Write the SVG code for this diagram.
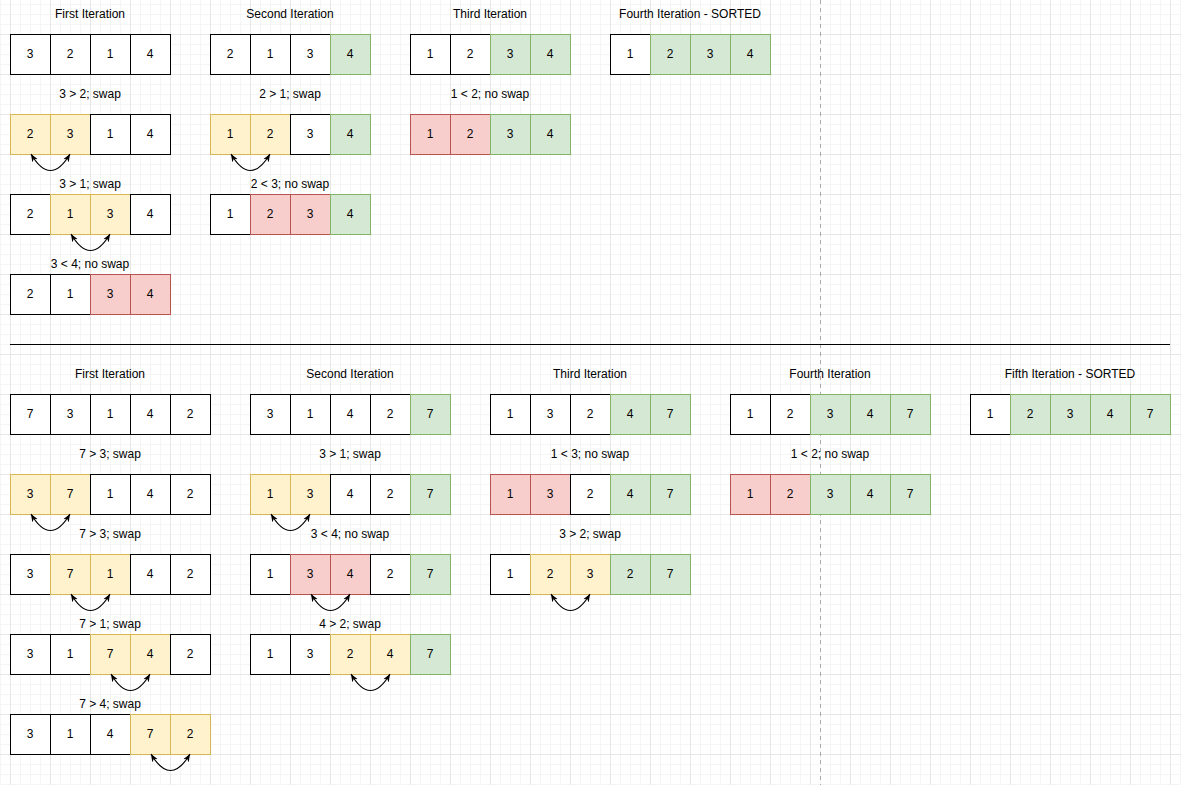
<svg xmlns="http://www.w3.org/2000/svg" width="1181" height="785" viewBox="0 0 1181 785">
<defs>
<pattern id="grid" x="10" y="34" width="40" height="40" patternUnits="userSpaceOnUse">
<path d="M10.5,0V40M20.5,0V40M30.5,0V40M0,10.5H40M0,20.5H40M0,30.5H40" stroke="#f5f5f5" stroke-width="1" fill="none"/>
<path d="M0.5,0V40M0,0.5H40" stroke="#e7e7e7" stroke-width="1" fill="none"/>
</pattern>
<marker id="ah" viewBox="0 0 10 10" refX="10" refY="5" markerWidth="8" markerHeight="8" markerUnits="userSpaceOnUse" orient="auto-start-reverse">
<path d="M0,1 L10,5 L0,9 L3,5 z" fill="#000"/>
</marker>
<style>
rect.w{fill:#fff;stroke:#000}
rect.y{fill:#fff2cc;stroke:#d6b656}
rect.r{fill:#f8cecc;stroke:#b85450}
rect.g{fill:#d5e8d4;stroke:#82b366}
text{font-family:"Liberation Sans",Arial,sans-serif;font-size:12px;fill:#000;text-anchor:middle}
.arr{fill:none;stroke:#000;stroke-width:1.2;marker-start:url(#ah);marker-end:url(#ah)}
</style>
</defs>
<rect width="1181" height="785" fill="#fff"/>
<rect width="1181" height="785" fill="url(#grid)"/>
<line x1="820.5" y1="0" x2="820.5" y2="785" stroke="#aaa" stroke-dasharray="4 4"/>
<line x1="10" y1="344.5" x2="1170" y2="344.5" stroke="#000"/>

<g transform="translate(0,-1)">
<g id="titles">
<text x="90" y="19">First Iteration</text>
<text x="290" y="19">Second Iteration</text>
<text x="490" y="19">Third Iteration</text>
<text x="690" y="19">Fourth Iteration - SORTED</text>
<text x="110" y="379">First Iteration</text>
<text x="350" y="379">Second Iteration</text>
<text x="590" y="379">Third Iteration</text>
<text x="830" y="379">Fourth Iteration</text>
<text x="1070" y="379">Fifth Iteration - SORTED</text>
</g>
<g id="labels">
<text x="90" y="99">3 &gt; 2; swap</text>
<text x="90" y="189">3 &gt; 1; swap</text>
<text x="90" y="269">3 &lt; 4; no swap</text>
<text x="290" y="99">2 &gt; 1; swap</text>
<text x="290" y="189">2 &lt; 3; no swap</text>
<text x="490" y="99">1 &lt; 2; no swap</text>
<text x="110" y="459">7 &gt; 3; swap</text>
<text x="110" y="539">7 &gt; 3; swap</text>
<text x="110" y="629">7 &gt; 1; swap</text>
<text x="110" y="709">7 &gt; 4; swap</text>
<text x="350" y="459">3 &gt; 1; swap</text>
<text x="350" y="539">3 &lt; 4; no swap</text>
<text x="350" y="629">4 &gt; 2; swap</text>
<text x="590" y="459">1 &lt; 3; no swap</text>
<text x="590" y="539">3 &gt; 2; swap</text>
<text x="830" y="459">1 &lt; 2; no swap</text>
</g>

<g id="t1r1"><rect class="w" x="10.5" y="35.5" width="40" height="40"/><rect class="w" x="50.5" y="35.5" width="40" height="40"/><rect class="w" x="90.5" y="35.5" width="40" height="40"/><rect class="w" x="130.5" y="35.5" width="40" height="40"/><text x="30" y="59">3</text><text x="70" y="59">2</text><text x="110" y="59">1</text><text x="150" y="59">4</text></g>
<g id="t1r2"><rect class="y" x="10.5" y="115.5" width="40" height="40"/><rect class="y" x="50.5" y="115.5" width="40" height="40"/><rect class="w" x="90.5" y="115.5" width="40" height="40"/><rect class="w" x="130.5" y="115.5" width="40" height="40"/><text x="30" y="139">2</text><text x="70" y="139">3</text><text x="110" y="139">1</text><text x="150" y="139">4</text></g>
<g id="t1r3"><rect class="w" x="10.5" y="195.5" width="40" height="40"/><rect class="y" x="50.5" y="195.5" width="40" height="40"/><rect class="y" x="90.5" y="195.5" width="40" height="40"/><rect class="w" x="130.5" y="195.5" width="40" height="40"/><text x="30" y="219">2</text><text x="70" y="219">1</text><text x="110" y="219">3</text><text x="150" y="219">4</text></g>
<g id="t1r4"><rect class="w" x="10.5" y="275.5" width="40" height="40"/><rect class="w" x="50.5" y="275.5" width="40" height="40"/><rect class="r" x="90.5" y="275.5" width="40" height="40"/><rect class="r" x="130.5" y="275.5" width="40" height="40"/><text x="30" y="299">2</text><text x="70" y="299">1</text><text x="110" y="299">3</text><text x="150" y="299">4</text></g>

<g id="t2r1"><rect class="w" x="210.5" y="35.5" width="40" height="40"/><rect class="w" x="250.5" y="35.5" width="40" height="40"/><rect class="w" x="290.5" y="35.5" width="40" height="40"/><rect class="g" x="330.5" y="35.5" width="40" height="40"/><text x="230" y="59">2</text><text x="270" y="59">1</text><text x="310" y="59">3</text><text x="350" y="59">4</text></g>
<g id="t2r2"><rect class="y" x="210.5" y="115.5" width="40" height="40"/><rect class="y" x="250.5" y="115.5" width="40" height="40"/><rect class="w" x="290.5" y="115.5" width="40" height="40"/><rect class="g" x="330.5" y="115.5" width="40" height="40"/><text x="230" y="139">1</text><text x="270" y="139">2</text><text x="310" y="139">3</text><text x="350" y="139">4</text></g>
<g id="t2r3"><rect class="w" x="210.5" y="195.5" width="40" height="40"/><rect class="r" x="250.5" y="195.5" width="40" height="40"/><rect class="r" x="290.5" y="195.5" width="40" height="40"/><rect class="g" x="330.5" y="195.5" width="40" height="40"/><text x="230" y="219">1</text><text x="270" y="219">2</text><text x="310" y="219">3</text><text x="350" y="219">4</text></g>

<g id="t3r1"><rect class="w" x="410.5" y="35.5" width="40" height="40"/><rect class="w" x="450.5" y="35.5" width="40" height="40"/><rect class="g" x="490.5" y="35.5" width="40" height="40"/><rect class="g" x="530.5" y="35.5" width="40" height="40"/><text x="430" y="59">1</text><text x="470" y="59">2</text><text x="510" y="59">3</text><text x="550" y="59">4</text></g>
<g id="t3r2"><rect class="r" x="410.5" y="115.5" width="40" height="40"/><rect class="r" x="450.5" y="115.5" width="40" height="40"/><rect class="g" x="490.5" y="115.5" width="40" height="40"/><rect class="g" x="530.5" y="115.5" width="40" height="40"/><text x="430" y="139">1</text><text x="470" y="139">2</text><text x="510" y="139">3</text><text x="550" y="139">4</text></g>

<g id="t4r1"><rect class="w" x="610.5" y="35.5" width="40" height="40"/><rect class="g" x="650.5" y="35.5" width="40" height="40"/><rect class="g" x="690.5" y="35.5" width="40" height="40"/><rect class="g" x="730.5" y="35.5" width="40" height="40"/><text x="630" y="59">1</text><text x="670" y="59">2</text><text x="710" y="59">3</text><text x="750" y="59">4</text></g>

<g id="b1r1"><rect class="w" x="10.5" y="395.5" width="40" height="40"/><rect class="w" x="50.5" y="395.5" width="40" height="40"/><rect class="w" x="90.5" y="395.5" width="40" height="40"/><rect class="w" x="130.5" y="395.5" width="40" height="40"/><rect class="w" x="170.5" y="395.5" width="40" height="40"/><text x="30" y="419">7</text><text x="70" y="419">3</text><text x="110" y="419">1</text><text x="150" y="419">4</text><text x="190" y="419">2</text></g>
<g id="b1r2"><rect class="y" x="10.5" y="475.5" width="40" height="40"/><rect class="y" x="50.5" y="475.5" width="40" height="40"/><rect class="w" x="90.5" y="475.5" width="40" height="40"/><rect class="w" x="130.5" y="475.5" width="40" height="40"/><rect class="w" x="170.5" y="475.5" width="40" height="40"/><text x="30" y="499">3</text><text x="70" y="499">7</text><text x="110" y="499">1</text><text x="150" y="499">4</text><text x="190" y="499">2</text></g>
<g id="b1r3"><rect class="w" x="10.5" y="555.5" width="40" height="40"/><rect class="y" x="50.5" y="555.5" width="40" height="40"/><rect class="y" x="90.5" y="555.5" width="40" height="40"/><rect class="w" x="130.5" y="555.5" width="40" height="40"/><rect class="w" x="170.5" y="555.5" width="40" height="40"/><text x="30" y="579">3</text><text x="70" y="579">7</text><text x="110" y="579">1</text><text x="150" y="579">4</text><text x="190" y="579">2</text></g>
<g id="b1r4"><rect class="w" x="10.5" y="635.5" width="40" height="40"/><rect class="w" x="50.5" y="635.5" width="40" height="40"/><rect class="y" x="90.5" y="635.5" width="40" height="40"/><rect class="y" x="130.5" y="635.5" width="40" height="40"/><rect class="w" x="170.5" y="635.5" width="40" height="40"/><text x="30" y="659">3</text><text x="70" y="659">1</text><text x="110" y="659">7</text><text x="150" y="659">4</text><text x="190" y="659">2</text></g>
<g id="b1r5"><rect class="w" x="10.5" y="715.5" width="40" height="40"/><rect class="w" x="50.5" y="715.5" width="40" height="40"/><rect class="w" x="90.5" y="715.5" width="40" height="40"/><rect class="y" x="130.5" y="715.5" width="40" height="40"/><rect class="y" x="170.5" y="715.5" width="40" height="40"/><text x="30" y="739">3</text><text x="70" y="739">1</text><text x="110" y="739">4</text><text x="150" y="739">7</text><text x="190" y="739">2</text></g>

<g id="b2r1"><rect class="w" x="250.5" y="395.5" width="40" height="40"/><rect class="w" x="290.5" y="395.5" width="40" height="40"/><rect class="w" x="330.5" y="395.5" width="40" height="40"/><rect class="w" x="370.5" y="395.5" width="40" height="40"/><rect class="g" x="410.5" y="395.5" width="40" height="40"/><text x="270" y="419">3</text><text x="310" y="419">1</text><text x="350" y="419">4</text><text x="390" y="419">2</text><text x="430" y="419">7</text></g>
<g id="b2r2"><rect class="y" x="250.5" y="475.5" width="40" height="40"/><rect class="y" x="290.5" y="475.5" width="40" height="40"/><rect class="w" x="330.5" y="475.5" width="40" height="40"/><rect class="w" x="370.5" y="475.5" width="40" height="40"/><rect class="g" x="410.5" y="475.5" width="40" height="40"/><text x="270" y="499">1</text><text x="310" y="499">3</text><text x="350" y="499">4</text><text x="390" y="499">2</text><text x="430" y="499">7</text></g>
<g id="b2r3"><rect class="w" x="250.5" y="555.5" width="40" height="40"/><rect class="r" x="290.5" y="555.5" width="40" height="40"/><rect class="r" x="330.5" y="555.5" width="40" height="40"/><rect class="w" x="370.5" y="555.5" width="40" height="40"/><rect class="g" x="410.5" y="555.5" width="40" height="40"/><text x="270" y="579">1</text><text x="310" y="579">3</text><text x="350" y="579">4</text><text x="390" y="579">2</text><text x="430" y="579">7</text></g>
<g id="b2r4"><rect class="w" x="250.5" y="635.5" width="40" height="40"/><rect class="w" x="290.5" y="635.5" width="40" height="40"/><rect class="y" x="330.5" y="635.5" width="40" height="40"/><rect class="y" x="370.5" y="635.5" width="40" height="40"/><rect class="g" x="410.5" y="635.5" width="40" height="40"/><text x="270" y="659">1</text><text x="310" y="659">3</text><text x="350" y="659">2</text><text x="390" y="659">4</text><text x="430" y="659">7</text></g>

<g id="b3r1"><rect class="w" x="490.5" y="395.5" width="40" height="40"/><rect class="w" x="530.5" y="395.5" width="40" height="40"/><rect class="w" x="570.5" y="395.5" width="40" height="40"/><rect class="g" x="610.5" y="395.5" width="40" height="40"/><rect class="g" x="650.5" y="395.5" width="40" height="40"/><text x="510" y="419">1</text><text x="550" y="419">3</text><text x="590" y="419">2</text><text x="630" y="419">4</text><text x="670" y="419">7</text></g>
<g id="b3r2"><rect class="r" x="490.5" y="475.5" width="40" height="40"/><rect class="r" x="530.5" y="475.5" width="40" height="40"/><rect class="w" x="570.5" y="475.5" width="40" height="40"/><rect class="g" x="610.5" y="475.5" width="40" height="40"/><rect class="g" x="650.5" y="475.5" width="40" height="40"/><text x="510" y="499">1</text><text x="550" y="499">3</text><text x="590" y="499">2</text><text x="630" y="499">4</text><text x="670" y="499">7</text></g>
<g id="b3r3"><rect class="w" x="490.5" y="555.5" width="40" height="40"/><rect class="y" x="530.5" y="555.5" width="40" height="40"/><rect class="y" x="570.5" y="555.5" width="40" height="40"/><rect class="g" x="610.5" y="555.5" width="40" height="40"/><rect class="g" x="650.5" y="555.5" width="40" height="40"/><text x="510" y="579">1</text><text x="550" y="579">2</text><text x="590" y="579">3</text><text x="630" y="579">2</text><text x="670" y="579">7</text></g>

<g id="b4r1"><rect class="w" x="730.5" y="395.5" width="40" height="40"/><rect class="w" x="770.5" y="395.5" width="40" height="40"/><rect class="g" x="810.5" y="395.5" width="40" height="40"/><rect class="g" x="850.5" y="395.5" width="40" height="40"/><rect class="g" x="890.5" y="395.5" width="40" height="40"/><text x="750" y="419">1</text><text x="790" y="419">2</text><text x="830" y="419">3</text><text x="870" y="419">4</text><text x="910" y="419">7</text></g>
<g id="b4r2"><rect class="r" x="730.5" y="475.5" width="40" height="40"/><rect class="r" x="770.5" y="475.5" width="40" height="40"/><rect class="g" x="810.5" y="475.5" width="40" height="40"/><rect class="g" x="850.5" y="475.5" width="40" height="40"/><rect class="g" x="890.5" y="475.5" width="40" height="40"/><text x="750" y="499">1</text><text x="790" y="499">2</text><text x="830" y="499">3</text><text x="870" y="499">4</text><text x="910" y="499">7</text></g>

<g id="b5r1"><rect class="w" x="970.5" y="395.5" width="40" height="40"/><rect class="g" x="1010.5" y="395.5" width="40" height="40"/><rect class="g" x="1050.5" y="395.5" width="40" height="40"/><rect class="g" x="1090.5" y="395.5" width="40" height="40"/><rect class="g" x="1130.5" y="395.5" width="40" height="40"/><text x="990" y="419">1</text><text x="1030" y="419">2</text><text x="1070" y="419">3</text><text x="1110" y="419">4</text><text x="1150" y="419">7</text></g>

<g id="connectors">
<path class="arr" d="M31,155 Q50.5,188 70,155"/>
<path class="arr" d="M71,235 Q90.5,268 110,235"/>
<path class="arr" d="M231,155 Q250.5,188 270,155"/>
<path class="arr" d="M31,515 Q50.5,548 70,515"/>
<path class="arr" d="M71,595 Q90.5,628 110,595"/>
<path class="arr" d="M111,675 Q130.5,708 150,675"/>
<path class="arr" d="M151,755 Q170.5,788 190,755"/>
<path class="arr" d="M271,515 Q290.5,548 310,515"/>
<path class="arr" d="M311,595 Q330.5,628 350,595"/>
<path class="arr" d="M351,675 Q370.5,708 390,675"/>
<path class="arr" d="M551,595 Q570.5,628 590,595"/>
</g>
</g>
</svg>
